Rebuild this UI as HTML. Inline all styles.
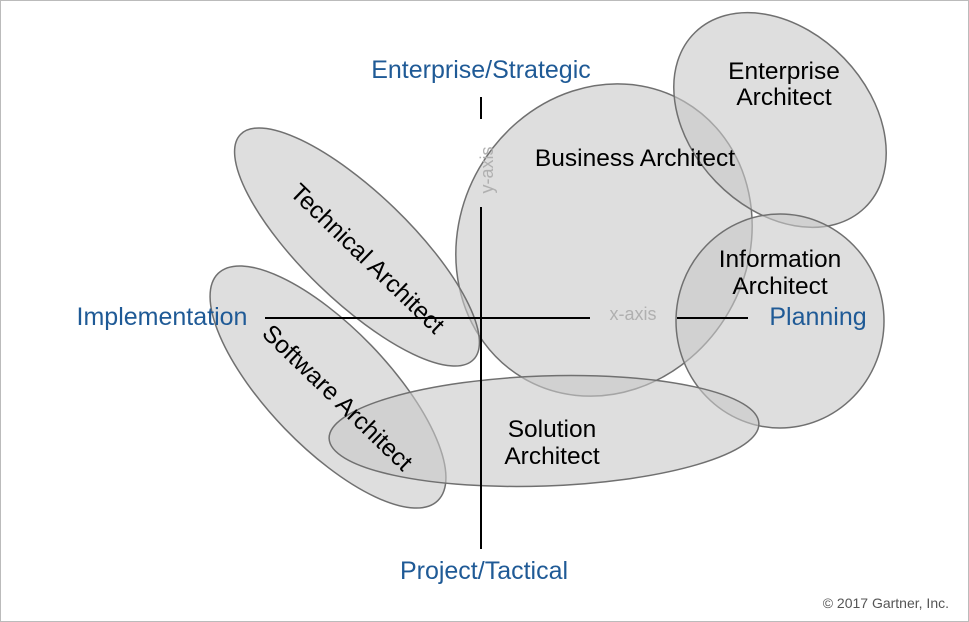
<!DOCTYPE html>
<html><head><meta charset="utf-8"><style>
html,body{margin:0;padding:0;background:#fff}
svg{display:block}
</style></head><body>
<svg width="969" height="622" viewBox="0 0 969 622" xmlns="http://www.w3.org/2000/svg" font-family="Liberation Sans, Arial, sans-serif">
<rect x="0.5" y="0.5" width="968" height="621" fill="#fff" stroke="#bbb"/>
<g fill="#c8c8c8" fill-opacity="0.6" stroke="#707070" stroke-width="1.5">
<ellipse cx="604" cy="240" rx="144" ry="160" transform="rotate(30 604 240)"/>
<ellipse cx="780" cy="120" rx="122" ry="89" transform="rotate(46 780 120)"/>
<ellipse cx="780" cy="321" rx="104" ry="107"/>
<ellipse cx="357" cy="247" rx="162" ry="54" transform="rotate(44 357 247)"/>
<ellipse cx="328" cy="387" rx="158" ry="60" transform="rotate(46 328 387)"/>
<ellipse cx="544" cy="431" rx="215" ry="55" transform="rotate(-2 544 431)"/>
</g>
<g stroke="#000" stroke-width="2">
<line x1="481" y1="97" x2="481" y2="119"/>
<line x1="481" y1="207" x2="481" y2="549"/>
<line x1="265" y1="318" x2="590" y2="318"/>
<line x1="677" y1="318" x2="748" y2="318"/>
</g>
<text x="481" y="170" fill="#b0b0b0" font-size="18" text-anchor="middle" transform="rotate(-90 487 164)">y-axis</text>
<text x="633" y="320" fill="#b0b0b0" font-size="18" text-anchor="middle">x-axis</text>
<g fill="#1f5a96" font-size="25">
<text x="481" y="78" text-anchor="middle">Enterprise/Strategic</text>
<text x="162" y="325" text-anchor="middle">Implementation</text>
<text x="818" y="325" text-anchor="middle">Planning</text>
<text x="484" y="579" text-anchor="middle">Project/Tactical</text>
</g>
<g fill="#000" font-size="24.5" text-anchor="middle">
<text x="635" y="166">Business Architect</text>
<text x="784" y="79">Enterprise</text>
<text x="784" y="105">Architect</text>
<text x="780" y="267">Information</text>
<text x="780" y="294">Architect</text>
<text x="552" y="437">Solution</text>
<text x="552" y="464">Architect</text>
<text x="368" y="267" transform="rotate(44 368 258)">Technical Architect</text>
<text x="338" y="406" transform="rotate(44 338 397)">Software Architect</text>
</g>
<text x="949" y="608" fill="#555" font-size="14" text-anchor="end">© 2017 Gartner, Inc.</text>
</svg>
</body></html>
